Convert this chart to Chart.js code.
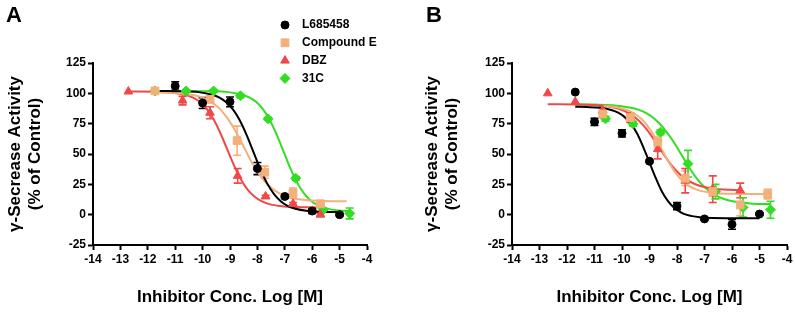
<!DOCTYPE html>
<html>
<head>
<meta charset="utf-8">
<script src="https://cdn.jsdelivr.net/npm/chart.js@4.4.1/dist/chart.umd.min.js"></script>
<style>
  body { margin: 0; background: #fff; }
  #wrap { position: relative; width: 795px; height: 313px; }
  #chartA { position: absolute; left: 0; top: 0; }
  #chartB { position: absolute; left: 400px; top: 0; }
</style>
</head>
<body>
<div id="wrap">
  <canvas id="chartA" width="400" height="313"></canvas>
  <canvas id="chartB" width="395" height="313"></canvas>
</div>
<script>
var names = ['L685458', 'Compound E', 'DBZ', '31C'];
var colors = ['#000000', '#F4B07A', '#F04848', '#33DD22'];
var shapes = ['circle', 'rect', 'triangle', 'rectRot'];
var sizes = [4, 5.5, 5, 5];
var xTicks = [-14, -13, -12, -11, -10, -9, -8, -7, -6, -5, -4];
var yTicks = [-25, 0, 25, 50, 75, 100, 125];

// panel A - measured points: log [M], % of control, error
var aBlackX = [-11, -10, -9, -8, -7, -6, -5];
var aBlackY = [106, 92, 93, 38, 15, 3, 0];
var aBlackE = [3.5, 4.5, 4, 5, 1.5, 2, 1];
var aOrangeX = [-11.74, -9.73, -8.74, -7.73, -6.7, -5.7];
var aOrangeY = [102, 95, 61, 35, 18, 9];
var aOrangeE = [1, 2, 12, 5, 4, 2];
var aRedX = [-12.71, -10.73, -9.73, -8.72, -7.7, -6.7, -5.7];
var aRedY = [101.5, 94, 84, 32, 15, 9, 0];
var aRedE = [0, 3.5, 5, 6, 1, 1, 1];
var aGreenX = [-11.74, -10.6, -9.6, -8.62, -7.61, -6.6, -5.6, -4.63];
var aGreenY = [102, 102, 102, 98, 79, 30, 4, 1];
var aGreenE = [1, 1, 1, 1.5, 1, 1.5, 1, 4.5];

// panel A - fitted curves
var aBlackCurveX = [-11.7, -10.65, -10.15, -9.65, -9.4, -9.15, -8.9, -8.65, -8.4, -8.15, -7.9, -7.65, -7.4, -7.15, -6.9, -6.65, -6.15, -5.65, -5];
var aBlackCurveY = [102, 101.7, 101, 98.9, 96.7, 92.9, 86.9, 78, 66, 52, 38, 26, 17.1, 11.1, 7.3, 5.1, 3, 2.3, 2.1];
var aOrangeCurveX = [-11.74, -10.85, -10.26, -9.97, -9.68, -9.38, -9.09, -8.79, -8.5, -8.21, -7.91, -7.62, -7.32, -7.03, -6.74, -6.15, -5.56, -4.74];
var aOrangeCurveY = [100.8, 100.1, 98.2, 96.2, 92.8, 87.4, 79.4, 68.6, 56, 43.4, 32.6, 24.6, 19.2, 15.8, 13.8, 11.9, 11.3, 11.05];
var aRedCurveX = [-12.7, -11.6, -11.1, -10.6, -10.35, -10.1, -9.85, -9.6, -9.35, -9.1, -8.85, -8.6, -8.35, -8.1, -7.85, -7.6, -7.1, -6.6, -5.7];
var aRedCurveY = [101.5, 101.2, 100.5, 98.5, 96.4, 92.8, 87.1, 78.6, 67.1, 53.8, 40.4, 28.9, 20.4, 14.7, 11.1, 8.9, 6.9, 6.3, 6];
var aGreenCurveX = [-11.74, -9.55, -9.05, -8.55, -8.3, -8.05, -7.8, -7.55, -7.3, -7.05, -6.8, -6.55, -6.3, -6.05, -5.8, -5.55, -5.05, -4.6];
var aGreenCurveY = [102, 101.7, 101, 98.9, 96.7, 93, 87, 78.1, 66.2, 52.3, 38.3, 26.4, 17.5, 11.5, 7.8, 5.6, 3.5, 2.9];

// panel B - measured points
var bBlackX = [-11.7, -11, -10, -9, -8, -7, -6, -5];
var bBlackY = [101, 76.5, 67, 44, 7, -3.5, -8, 0.5];
var bBlackE = [0, 3, 3, 1, 3, 1, 4, 1];
var bOrangeX = [-10.7, -9.7, -8.7, -7.7, -6.7, -5.7, -4.7];
var bOrangeY = [83, 80, 60, 30, 19, 8, 17];
var bOrangeE = [3, 3, 4, 6, 4, 9, 4];
var bRedX = [-12.7, -11.7, -10.7, -9.7, -8.7, -7.7, -6.7, -5.7];
var bRedY = [100, 93, 86, 80, 54, 28, 21, 20];
var bRedE = [0, 0, 3, 4, 8, 10, 11, 6];
var bGreenX = [-10.6, -9.6, -8.6, -7.6, -6.6, -5.6, -4.6];
var bGreenY = [79, 75, 68, 42, 19, 6, 4];
var bGreenE = [2, 2, 2, 11, 6, 8, 7];

// panel B - fitted curves
var bBlackCurveX = [-11.7, -11.27, -10.82, -10.36, -10.14, -9.91, -9.68, -9.45, -9.23, -9, -8.77, -8.55, -8.32, -8.09, -7.86, -7.64, -7.18, -6.73, -5];
var bBlackCurveY = [88.9, 88.7, 88.1, 86.1, 84.1, 80.6, 75.1, 66.9, 55.9, 43, 30.1, 19.1, 10.9, 5.4, 1.9, -0.2, -2.1, -2.7, -3];
var bOrangeCurveX = [-10.7, -10.3, -10.05, -9.8, -9.55, -9.3, -9.05, -8.8, -8.55, -8.3, -8.05, -7.8, -7.55, -7.3, -7.05, -6.55, -6.05, -4.7];
var bOrangeCurveY = [89.5, 88.7, 87.7, 86.1, 83.4, 79, 72.5, 63.7, 53.5, 43.3, 34.5, 28, 23.6, 20.9, 19.2, 17.7, 17.2, 17];
var bRedCurveX = [-12.7, -11.59, -11, -10.41, -10.12, -9.83, -9.53, -9.24, -8.94, -8.65, -8.36, -8.06, -7.77, -7.47, -7.18, -6.89, -6.3, -5.7];
var bRedCurveY = [91, 90.8, 90.3, 88.8, 87.2, 84.5, 80.3, 74, 65.4, 55.5, 45.6, 37, 30.7, 26.5, 23.8, 22.2, 20.7, 20.2];
var bGreenCurveX = [-11.7, -10.98, -10.35, -9.73, -9.41, -9.1, -8.79, -8.48, -8.16, -7.85, -7.54, -7.23, -6.91, -6.6, -6.29, -5.98, -5.35, -4.6];
var bGreenCurveY = [90.9, 90.7, 90.2, 88.4, 86.6, 83.5, 78.5, 71.2, 61.3, 49.8, 38.2, 28.3, 21, 16, 12.9, 11, 9.3, 8.7];

Chart.defaults.font.family = "'Liberation Sans', Arial, sans-serif";
Chart.defaults.font.weight = 'bold';
Chart.defaults.color = '#000';

function pts(xs, ys) {
  return xs.map(function (x, i) { return { x: x, y: ys[i] }; });
}

// error bars drawn from the err arrays through the chart scales
var errorBars = {
  id: 'errorBars',
  beforeDatasetsDraw: function (chart) {
    var ctx = chart.ctx, xs = chart.scales.x, ys = chart.scales.y;
    chart.data.datasets.forEach(function (ds) {
      if (!ds.err) return;
      ctx.save();
      ctx.strokeStyle = ds.borderColor;
      ctx.lineWidth = 1.6;
      ds.data.forEach(function (p, i) {
        var e = ds.err[i];
        if (!e) return;
        var x = xs.getPixelForValue(p.x);
        var y1 = ys.getPixelForValue(p.y + e), y2 = ys.getPixelForValue(p.y - e);
        ctx.beginPath();
        ctx.moveTo(x, y1); ctx.lineTo(x, y2);
        ctx.moveTo(x - 4, y1); ctx.lineTo(x + 4, y1);
        ctx.moveTo(x - 4, y2); ctx.lineTo(x + 4, y2);
        ctx.stroke();
      });
      ctx.restore();
    });
  }
};

// panel letter and (for A) the symbol legend
var decorations = {
  id: 'decorations',
  afterDraw: function (chart, args, opts) {
    var ctx = chart.ctx;
    ctx.save();
    ctx.fillStyle = '#000';
    ctx.font = "bold 22px 'Liberation Sans', Arial, sans-serif";
    ctx.textBaseline = 'middle';
    ctx.textAlign = 'left';
    ctx.fillText(opts.letter, opts.letterX, 16);
    if (opts.legend) {
      ctx.font = "bold 12px 'Liberation Sans', Arial, sans-serif";
      names.forEach(function (n, i) {
        var y = 25 + i * 17.8;
        ctx.fillStyle = colors[i];
        ctx.strokeStyle = colors[i];
        Chart.helpers.drawPoint(ctx, { pointStyle: shapes[i], radius: sizes[i], rotation: 0, borderWidth: 1 }, 285, y);
        ctx.fillStyle = '#000';
        ctx.fillText(n, 302, y);
      });
    }
    ctx.restore();
  }
};

function makePanel(id, sets, cfg) {
  var datasets = [];
  sets.forEach(function (s, i) {
    datasets.push({
      label: names[i],
      data: pts(s[0], s[1]),
      err: s[2],
      showLine: false,
      pointStyle: shapes[i],
      pointRadius: sizes[i],
      backgroundColor: colors[i],
      borderColor: colors[i],
      borderWidth: 1,
      order: 1
    });
  });
  sets.forEach(function (s, i) {
    datasets.push({
      label: names[i] + ' fit',
      data: pts(s[3], s[4]),
      showLine: true,
      pointRadius: 0,
      borderColor: colors[i],
      backgroundColor: colors[i],
      borderWidth: 2,
      cubicInterpolationMode: 'monotone',
      fill: false,
      order: 2
    });
  });

  return new Chart(document.getElementById(id), {
    type: 'scatter',
    data: { datasets: datasets },
    options: {
      responsive: false,
      animation: false,
      devicePixelRatio: 1,
      layout: { padding: { left: 0, top: 63, right: cfg.padRight, bottom: 0 } },
      plugins: {
        legend: { display: false },
        tooltip: { enabled: false },
        decorations: { letter: cfg.letter, letterX: cfg.letterX, legend: cfg.legend }
      },
      scales: {
        x: {
          type: 'linear',
          min: -14,
          max: -4,
          afterBuildTicks: function (s) { s.ticks = xTicks.map(function (v) { return { value: v }; }); },
          afterFit: function (s) { s.height = 68; },
          ticks: { font: { size: 12, weight: 'bold' }, color: '#000', padding: 2, maxRotation: 0, autoSkip: false },
          grid: { drawOnChartArea: false, drawTicks: true, tickLength: 5, tickWidth: 2, tickColor: '#000' },
          border: { display: true, color: '#000', width: 2 },
          title: {
            display: true,
            text: 'Inhibitor Conc. Log [M]',
            font: { size: 17, weight: 'bold' },
            color: '#000',
            padding: { top: 0, bottom: 5 }
          }
        },
        y: {
          min: -25,
          max: 125,
          afterBuildTicks: function (s) { s.ticks = yTicks.map(function (v) { return { value: v }; }); },
          afterFit: function (s) { s.width = cfg.yWidth; },
          ticks: { font: { size: 12, weight: 'bold' }, color: '#000', padding: 2 },
          grid: { drawOnChartArea: false, drawTicks: true, tickLength: 5, tickWidth: 2, tickColor: '#000' },
          border: { display: true, color: '#000', width: 2 },
          title: {
            display: true,
            text: ['\u03b3-Secrease Activity', '(% of Control)'],
            font: { size: 17, weight: 'bold', lineHeight: 1.15 },
            color: '#000',
            padding: { top: cfg.yTitlePad, bottom: 0 }
          }
        }
      }
    },
    plugins: [errorBars, decorations]
  });
}

makePanel('chartA', [
  [aBlackX, aBlackY, aBlackE, aBlackCurveX, aBlackCurveY],
  [aOrangeX, aOrangeY, aOrangeE, aOrangeCurveX, aOrangeCurveY],
  [aRedX, aRedY, aRedE, aRedCurveX, aRedCurveY],
  [aGreenX, aGreenY, aGreenE, aGreenCurveX, aGreenCurveY]
], { letter: 'A', letterX: 6, legend: true, padRight: 33, yWidth: 93, yTitlePad: 6 });

makePanel('chartB', [
  [bBlackX, bBlackY, bBlackE, bBlackCurveX, bBlackCurveY],
  [bOrangeX, bOrangeY, bOrangeE, bOrangeCurveX, bOrangeCurveY],
  [bRedX, bRedY, bRedE, bRedCurveX, bRedCurveY],
  [bGreenX, bGreenY, bGreenE, bGreenCurveX, bGreenCurveY]
], { letter: 'B', letterX: 26, legend: false, padRight: 8, yWidth: 112, yTitlePad: 23 });
</script>
</body>
</html>
